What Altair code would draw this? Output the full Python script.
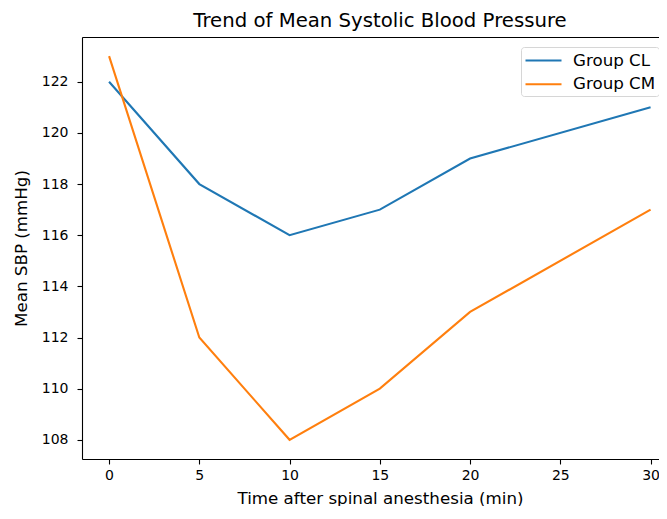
import altair as alt
import pandas as pd

times = [0, 5, 10, 15, 20, 30]
group_cl = [122, 118, 116, 117, 119, 121]
group_cm = [123, 112, 108, 110, 113, 117]
groups = ["Group CL", "Group CM"]
colors = ["#1f77b4", "#ff7f0e"]
x_ticks = [0, 5, 10, 15, 20, 25, 30]
y_ticks = [108, 110, 112, 114, 116, 118, 120, 122]

rows = []
for g, vals in zip(groups, [group_cl, group_cm]):
    for t, v in zip(times, vals):
        rows.append({"time": t, "sbp": v, "group": g})
df = pd.DataFrame(rows)

FONT = "DejaVu Sans"
W, H = 577, 422

xscale = alt.Scale(domain=[-1.5, -1.5 + W / 18.05], nice=False, zero=False)
yscale = alt.Scale(domain=[107.25, 123.75], nice=False, zero=False)

lines = alt.Chart(df).mark_line(strokeWidth=2.1, clip=True).encode(
    x=alt.X("time:Q", scale=xscale,
            axis=alt.Axis(values=x_ticks, title="Time after spinal anesthesia (min)",
                          grid=False, tickSize=5, labelPadding=4, labelFontSize=14,
                          titleFontSize=16.7, titleFontWeight="normal",
                          titleX=298, titleY=44, titleBaseline="alphabetic",
                          domainColor="black", tickColor="black", labelColor="black",
                          titleColor="black", domainWidth=1.1, tickWidth=1.1,
                          labelFont=FONT, titleFont=FONT)),
    y=alt.Y("sbp:Q", scale=yscale,
            axis=alt.Axis(values=y_ticks, title="Mean SBP (mmHg)", grid=False,
                          tickSize=5, labelPadding=9, labelFontSize=14,
                          titleFontSize=16.7, titleFontWeight="normal",
                          titleX=-61, titleY=H / 2, titleAngle=270, titleBaseline="middle",
                          domainColor="black", tickColor="black", labelColor="black",
                          titleColor="black", domainWidth=1.1, tickWidth=1.1,
                          labelFont=FONT, titleFont=FONT)),
    color=alt.Color("group:N", scale=alt.Scale(domain=groups, range=colors),
                    legend=alt.Legend(title=None, orient="none", legendX=439, legendY=10,
                                      symbolType="M-2,0H2", symbolSize=324,
                                      symbolOffset=9, symbolFillColor="transparent",
                                      symbolStrokeWidth=2.1, labelOffset=19,
                                      labelFontSize=16.7, labelFont=FONT, labelColor="black",
                                      strokeColor="#d6d6d6", fillColor="white",
                                      cornerRadius=3, padding=3, rowPadding=3.8)),
)

top_spine = alt.Chart(df).mark_line(opacity=0).encode(
    x=alt.X("time:Q", scale=xscale,
            axis=alt.Axis(orient="top", labels=False, ticks=False, title=None, grid=False,
                          domainColor="black", domainWidth=1.1)),
    y=alt.Y("sbp:Q", scale=yscale),
)

chart = alt.layer(lines, top_spine).resolve_axis(x="independent").properties(
    width=W,
    height=H,
    autosize=alt.AutoSizeParams(type="none"),
    padding={"left": 74, "top": 29, "right": 0, "bottom": 47},
    title=alt.TitleParams("Trend of Mean Systolic Blood Pressure", font=FONT,
                          fontSize=19.7, fontWeight="normal", color="black",
                          anchor="middle", dx=9.5, offset=6),
).configure_view(stroke=None).configure(background="white")

chart.save("out.html", embed_options={"renderer": "svg", "actions": False})
